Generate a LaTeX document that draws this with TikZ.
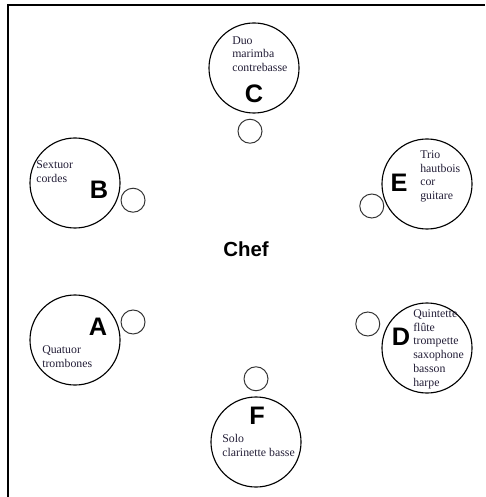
\documentclass[tikz,border=0pt]{standalone}
\usepackage{fontspec}
\setmainfont{Liberation Serif}
\setsansfont{Liberation Sans}
\usetikzlibrary{positioning}
\definecolor{ink}{RGB}{35,30,55}

\begin{document}
\begin{tikzpicture}[x=0.025cm ,y=-0.025cm ,on grid ,
    group/.style ={circle ,draw ,line width=0.8pt ,minimum size=2.25cm ,inner sep=0},
    seat/.style ={circle ,draw ,line width=0.7pt ,draw=black!80 ,minimum size=0.6cm ,inner sep=0},
    letter/.style ={font=\sffamily\bfseries\fontsize{18}{18}\selectfont},
    names/.style ={anchor=north west ,align=left ,inner sep=0 ,text=ink ,
    font=\fontsize{8.4}{9.9}\selectfont}
    ]
    \useasboundingbox (0,0) rectangle (485,497);
    \draw[line width=1.4pt] (8,497) -- (8,5) -- (485,5);
    % ensembles
    \node[group] (C) at (254,68) {};
    \node[group] (B) at (75,183) {};
    \node[group] (E) at (427,184) {};
    \node[group] (A) at (75,340) {};
    \node[group] (D) at (427,348) {};
    \node[group] (F) at (256,442) {};
    % places
    \node[seat] (sC) [below left = 1.58cm and 0.1cm of C] {};
    \node[seat] (sB) [below right = 0.43cm and 1.45cm of B] {};
    \node[seat] (sE) [below left = 0.55cm and 1.38cm of E] {};
    \node[seat] (sA) [above right = 0.45cm and 1.45cm of A] {};
    \node[seat] (sD) [above left = 0.6cm and 1.48cm of D] {};
    \node[seat] (sF) [above = 1.58cm of F] {};
    % lettres
    \node[letter] (lC) at (254,94) {C};
    \node[letter] (lB) at (99,190) {B};
    \node[letter] (lE) at (399,183) {E};
    \node[letter] (lA) at (98,327) {A};
    \node[letter] (lD) at (401,337) {D};
    \node[letter] (lF) at (257,416) {F};
    \node[font=\sffamily\bfseries\fontsize{14.5}{14.5}\selectfont] (chef) at (246,249) {Chef};
    % formations
    \node[names] (tC) at (232,36) {Duo\\marimba\\contrebasse};
    \node[names] (tB) at (36,160) {Sextuor\\cordes};
    \node[names] (tE) at (420,150) {Trio\\hautbois\\cor\\guitare};
    \node[names] (tA) at (42,345) {Quatuor\\trombones};
    \node[names] (tD) at (413,309) {Quintette\\flûte\\trompette\\saxophone\\basson\\harpe};
    \node[names] (tF) at (222,434) {Solo\\clarinette basse};
\end{tikzpicture}
\end{document}
